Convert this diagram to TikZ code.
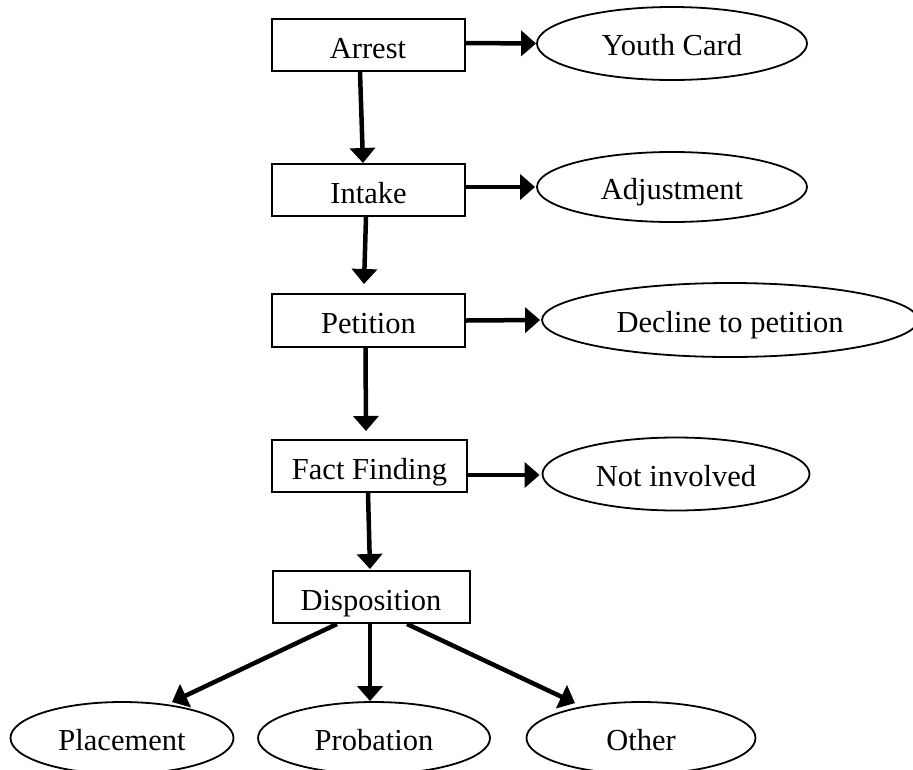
\documentclass[tikz,border=0pt]{standalone}
\usepackage{fontspec}
\setmainfont{Liberation Serif}
\usetikzlibrary{arrows.meta,shapes.geometric}
\begin{document}
\begin{tikzpicture}[x=1pt,y=-1pt,
  lbl/.style={font=\fontsize{30.5}{36}\selectfont},
  box/.style={lbl,draw,line width=2pt,rectangle,minimum width=193pt,minimum height=52pt,inner sep=0pt,text height=26pt,text depth=0pt},
  oval/.style={lbl,draw,line width=1.8pt,ellipse,inner sep=0pt,text height=24pt,text depth=0pt},
  arr/.style={line width=4.5pt,-{Triangle[length=15pt,width=25pt]}}]
\useasboundingbox (0,0) rectangle (913,769);
% boxes
\node[box] (arrest) at (368,45) {Arrest};
\node[box] (intake) at (368.5,190) {Intake};
\node[box,minimum height=53pt] (petition) at (368.5,320.5) {Petition};
\node[box,minimum width=195pt] (fact) at (369.5,466) {Fact Finding};
\node[box,minimum width=197pt] (disp) at (371,597) {Disposition};
% ellipses
\node[oval,minimum width=270pt,minimum height=73pt] (youth) at (672,43.5) {Youth Card};
\node[oval,minimum width=270pt,minimum height=70pt] (adjust) at (672,187) {Adjustment};
\node[oval,minimum width=376pt,minimum height=74pt] (decline) at (730,320) {Decline to petition};
\node[oval,minimum width=267pt,minimum height=73pt] (notinv) at (676,474) {Not involved};
\node[oval,minimum width=223pt,minimum height=72pt] (place) at (122,738) {Placement};
\node[oval,minimum width=232pt,minimum height=72pt] (prob) at (374,738) {Probation};
\node[oval,minimum width=229pt,minimum height=72pt] (other) at (641,738) {Other};
% vertical arrows
\draw[arr] ([xshift=-8pt]arrest.south) -- ([xshift=-5.5pt]intake.north);
\draw[arr] ([xshift=-2.5pt]intake.south) -- ([xshift=-4.5pt,yshift=9pt]petition.north);
\draw[arr] ([xshift=-3pt]petition.south) -- ([xshift=-3.5pt,yshift=8pt]fact.north);
\draw[arr] ([xshift=-1.5pt]fact.south) -- ([xshift=-1pt,yshift=1pt]disp.north);
% side arrows
\draw[arr] ([yshift=2pt]arrest.east) -- (youth.west);
\draw[arr] ([yshift=3pt]intake.east) -- ([xshift=-1pt]adjust.west);
\draw[arr] (petition.east) -- ([xshift=-1pt]decline.west);
\draw[arr] ([yshift=-9pt]fact.east) -- ([xshift=-2pt,yshift=-1pt]notinv.west);
% disposition arrows
\draw[arr] ([xshift=-34pt]disp.south) -- ([xshift=50pt,yshift=-1pt]place.north);
\draw[arr] ([xshift=-1pt]disp.south) -- ([xshift=-4pt]prob.north);
\draw[arr] ([xshift=36pt]disp.south) -- ([xshift=-66pt,yshift=-2pt]other.north);
\end{tikzpicture}
\end{document}
